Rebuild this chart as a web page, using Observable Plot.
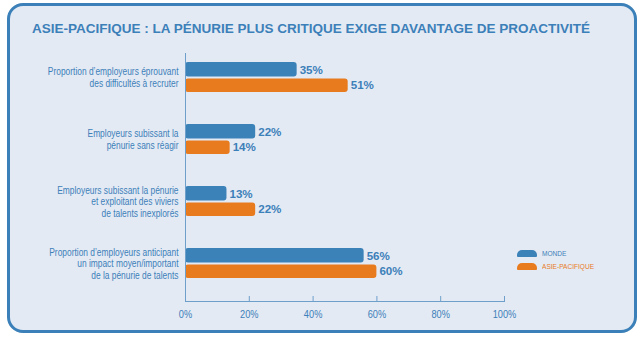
<!DOCTYPE html>
<html>
<head>
<meta charset="utf-8">
<script src="https://cdn.jsdelivr.net/npm/d3@7"></script>
<script src="https://cdn.jsdelivr.net/npm/@observablehq/plot@0.6"></script>
<style>
  html, body { margin: 0; padding: 0; background: #ffffff; }
  body { width: 644px; height: 339px; position: relative; overflow: hidden;
         font-family: "Liberation Sans", Arial, sans-serif; }
  #box { position: absolute; left: 7px; top: 3px; width: 624px; height: 324px;
         border: 3px solid #3b80b8; border-radius: 16px; background: #e4eaf4; }
  #title { position: absolute; left: 32px; top: 21.5px; font-size: 13.3px; font-weight: bold; line-height: 1.117;
           color: #3c80b9; white-space: nowrap; transform-origin: 0 0; }
  #chart { position: absolute; left: 0; top: 0; }
  .leg { position: absolute; font-size: 8px; line-height: 1.117; white-space: nowrap; transform-origin: 0 0; }
  .sw { position: absolute; width: 20px; height: 7px; border-radius: 5px 5px 1px 1px; }
</style>
</head>
<body>
<div id="box"></div>
<div id="title"></div>
<div id="chart"></div>
<div class="sw" style="left:517px;top:250px;background:#3b82b8"></div>
<div class="leg" id="leg1" style="left:542px;top:249.6px;color:#3c80b9"></div>
<div class="sw" style="left:517px;top:263px;background:#e87b1e"></div>
<div class="leg" id="leg2" style="left:542px;top:262.6px;color:#e87b1e"></div>
<script>
const title = "ASIE-PACIFIQUE : LA PÉNURIE PLUS CRITIQUE EXIGE DAVANTAGE DE PROACTIVITÉ";
const categories = [
  "Proportion d’employeurs éprouvant\ndes difficultés à recruter",
  "Employeurs subissant la\npénurie sans réagir",
  "Employeurs subissant la pénurie\net exploitant des viviers\nde talents inexplorés",
  "Proportion d’employeurs anticipant\nun impact moyen/important\nde la pénurie de talents"
];
const seriesNames = ["MONDE", "ASIE-PACIFIQUE"];
const monde = [35, 22, 13, 56];
const asiePacifique = [51, 14, 22, 60];
const xTicks = [0, 20, 40, 60, 80, 100];

const blue = "#3b82b8", orange = "#e87b1e", textBlue = "#3c80b9", axisColor = "#6e9fcb";
const fontFam = '"Liberation Sans", Arial, sans-serif';

// title, scaled horizontally to the reference's condensed width
const t = document.getElementById("title");
t.textContent = title;
t.style.transform = `scaleX(${558 / t.getBoundingClientRect().width})`;
const l1 = document.getElementById("leg1"), l2 = document.getElementById("leg2");
l1.textContent = seriesNames[0];
l2.textContent = seriesNames[1];
l1.style.transform = "scaleX(0.82)";
l2.style.transform = "scaleX(0.82)";

const rows = categories.map((c, i) => ({cat: c, monde: monde[i], ap: asiePacifique[i]}));

const chart = Plot.plot({
  width: 644,
  height: 339,
  marginLeft: 185,
  marginRight: 140,
  marginTop: 53,
  marginBottom: 38,
  style: {background: "transparent", fontFamily: fontFam, color: textBlue},
  x: {domain: [0, 100], axis: null},
  y: {type: "band", domain: categories, range: [46, 294], paddingInner: 0.516, paddingOuter: 0.258, axis: null},
  marks: [
    Plot.barX(rows, {y: "cat", x: "monde", fill: blue, insetBottom: 15.5, rx: 3}),
    Plot.barX(rows, {y: "cat", x: "ap", fill: orange, insetTop: 16.5, rx: 3}),
    Plot.text(rows, {y: "cat", x: "monde", text: d => d.monde + "%", dx: 2.5, dy: -7.5, textAnchor: "start",
      fontWeight: "bold", fontSize: 11.6, fill: textBlue}),
    Plot.text(rows, {y: "cat", x: "ap", text: d => d.ap + "%", dx: 2.5, dy: 8, textAnchor: "start",
      fontWeight: "bold", fontSize: 11.6, fill: textBlue}),
    Plot.text(categories, {y: d => d, frameAnchor: "left", dx: -7, textAnchor: "end", text: d => d,
      lineHeight: 1.12, fontSize: 10.5, fill: textBlue}),
    Plot.frame({anchor: "left", stroke: axisColor}),
    Plot.frame({anchor: "bottom", stroke: axisColor}),
    Plot.axisX({anchor: "bottom", ticks: xTicks, tickSize: 5, dy: -5, tickFormat: () => "", stroke: axisColor}),
    Plot.axisX({anchor: "bottom", ticks: xTicks, tickSize: 0, tickPadding: 9, tickFormat: d => d + "%",
      fontSize: 10.5, fill: textBlue})
  ]
});
document.getElementById("chart").appendChild(chart);

// condense text horizontally around each text's anchor point (y offsets untouched)
function squeeze(groups, k) {
  groups.forEach(g => g.querySelectorAll("text").forEach(el => {
    let tr = el.getAttribute("transform") || "";
    const x = el.getAttribute("x");
    if (x !== null && isFinite(+x)) {
      tr = `translate(${+x},0) ` + tr;
      el.removeAttribute("x");
    }
    el.setAttribute("transform", tr + ` scale(${k},1)`);
  }));
}
const textGroups = chart.querySelectorAll('g[aria-label="text"]');
squeeze([textGroups[2]], 0.8);
squeeze(Array.from(chart.querySelectorAll('g[aria-label="x-axis tick label"]')), 0.88);
</script>
</body>
</html>
